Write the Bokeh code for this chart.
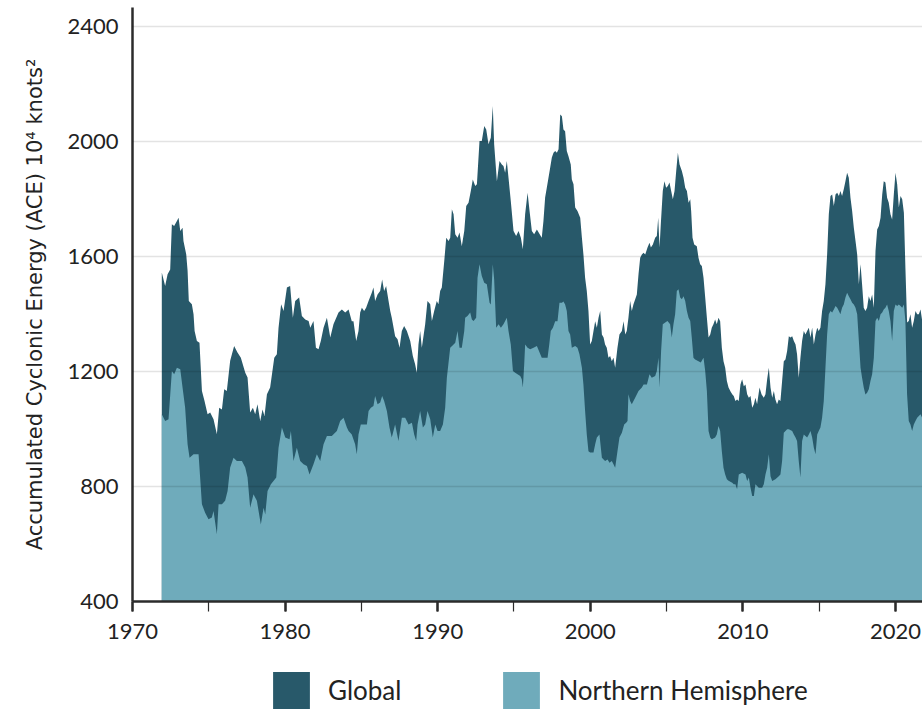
from bokeh.plotting import figure
from bokeh.layouts import column
from bokeh.models import Range1d, FixedTicker, SingleIntervalTicker, Legend, LegendItem
from bokeh.embed import file_html
from bokeh.resources import INLINE

# ---------------- data ----------------
global_years = [
    1971.92, 1972.14, 1972.30, 1972.47, 1972.58, 1972.73, 1972.91, 1973.02, 1973.13, 1973.28,
    1973.34, 1973.52, 1973.61, 1973.69, 1973.89, 1974.00, 1974.07, 1974.22, 1974.39, 1974.55,
    1974.72, 1974.92, 1975.09, 1975.31, 1975.53, 1975.68, 1975.86, 1976.01, 1976.18, 1976.40,
    1976.66, 1976.88, 1977.10, 1977.39, 1977.54, 1977.71, 1977.89, 1978.04, 1978.19, 1978.37,
    1978.52, 1978.65, 1978.81, 1979.02, 1979.29, 1979.46, 1979.57, 1979.74, 1979.90, 1980.12,
    1980.33, 1980.51, 1980.66, 1980.92, 1981.10, 1981.32, 1981.54, 1981.65, 1981.86, 1982.02,
    1982.19, 1982.34, 1982.52, 1982.74, 1982.96, 1983.17, 1983.50, 1983.72, 1983.94, 1984.16,
    1984.37, 1984.48, 1984.66, 1984.81, 1984.92, 1985.03, 1985.18, 1985.31, 1985.47, 1985.68,
    1985.79, 1985.90, 1986.06, 1986.23, 1986.36, 1986.49, 1986.62, 1986.78, 1986.89, 1986.99,
    1987.21, 1987.37, 1987.50, 1987.65, 1987.80, 1987.98, 1988.20, 1988.37, 1988.52, 1988.63,
    1988.74, 1988.85, 1988.96, 1989.18, 1989.33, 1989.51, 1989.62, 1989.77, 1989.94, 1990.05,
    1990.16, 1990.27, 1990.43, 1990.56, 1990.71, 1990.82, 1990.93, 1991.04, 1991.15, 1991.30,
    1991.43, 1991.58, 1991.74, 1991.87, 1992.02, 1992.17, 1992.30, 1992.46, 1992.57, 1992.74,
    1992.89, 1993.05, 1993.18, 1993.33, 1993.48, 1993.61, 1993.70, 1993.88, 1994.05, 1994.20,
    1994.31, 1994.42, 1994.53, 1994.64, 1994.79, 1994.97, 1995.14, 1995.30, 1995.45, 1995.58,
    1995.73, 1995.89, 1996.02, 1996.17, 1996.32, 1996.50, 1996.82, 1996.93, 1997.04, 1997.15,
    1997.26, 1997.37, 1997.48, 1997.59, 1997.70, 1997.81, 1997.92, 1998.03, 1998.14, 1998.24,
    1998.35, 1998.46, 1998.57, 1998.72, 1998.79, 1998.90, 1999.01, 1999.16, 1999.34, 1999.45,
    1999.55, 1999.66, 1999.77, 1999.88, 1999.99, 2000.10, 2000.21, 2000.32, 2000.43, 2000.54,
    2000.65, 2000.76, 2000.87, 2000.97, 2001.08, 2001.19, 2001.30, 2001.41, 2001.52, 2001.63,
    2001.78, 2001.91, 2002.07, 2002.18, 2002.29, 2002.39, 2002.50, 2002.61, 2002.72, 2002.83,
    2003.05, 2003.16, 2003.27, 2003.38, 2003.49, 2003.60, 2003.75, 2003.88, 2003.97, 2004.10,
    2004.25, 2004.36, 2004.45, 2004.54, 2004.62, 2004.75, 2004.86, 2004.97, 2005.08, 2005.19,
    2005.30, 2005.41, 2005.52, 2005.63, 2005.74, 2005.85, 2006.00, 2006.11, 2006.22, 2006.33,
    2006.44, 2006.55, 2006.61, 2006.70, 2006.81, 2006.98, 2007.09, 2007.20, 2007.31, 2007.42,
    2007.53, 2007.64, 2007.75, 2007.86, 2007.96, 2008.07, 2008.18, 2008.29, 2008.40, 2008.51,
    2008.62, 2008.73, 2008.84, 2008.95, 2009.06, 2009.19, 2009.30, 2009.40, 2009.51, 2009.62,
    2009.73, 2009.84, 2009.95, 2010.06, 2010.17, 2010.28, 2010.39, 2010.50, 2010.61, 2010.72,
    2010.82, 2010.93, 2011.09, 2011.22, 2011.37, 2011.48, 2011.59, 2011.70, 2011.81, 2011.92,
    2012.03, 2012.13, 2012.24, 2012.35, 2012.46, 2012.57, 2012.68, 2012.79, 2012.90, 2013.01,
    2013.12, 2013.23, 2013.34, 2013.45, 2013.55, 2013.66, 2013.77, 2013.88, 2013.99, 2014.10,
    2014.21, 2014.32, 2014.43, 2014.54, 2014.65, 2014.76, 2014.87, 2014.97, 2015.08, 2015.19,
    2015.30, 2015.41, 2015.52, 2015.63, 2015.74, 2015.85, 2015.96, 2016.07, 2016.18, 2016.29,
    2016.39, 2016.50, 2016.61, 2016.72, 2016.83, 2016.94, 2017.05, 2017.16, 2017.27, 2017.38,
    2017.49, 2017.60, 2017.71, 2017.81, 2017.92, 2018.03, 2018.14, 2018.25, 2018.36, 2018.47,
    2018.58, 2018.69, 2018.80, 2018.91, 2019.02, 2019.13, 2019.23, 2019.34, 2019.45, 2019.56,
    2019.67, 2019.78, 2019.89, 2020.00, 2020.11, 2020.22, 2020.33, 2020.44, 2020.55, 2020.65,
    2020.76, 2020.87, 2020.98, 2021.09, 2021.20, 2021.31, 2021.42, 2021.53, 2021.64, 2021.75,
    2022.00,
]
global_ace = [
    1544, 1497, 1538, 1555, 1712, 1706, 1723, 1735, 1689, 1700,
    1654, 1608, 1550, 1445, 1434, 1399, 1341, 1306, 1300, 1132,
    1097, 1051, 1057, 1034, 982, 1074, 1068, 1138, 1132, 1237,
    1289, 1266, 1248, 1196, 1179, 1057, 1074, 1051, 1086, 1028,
    1068, 1045, 1121, 1144, 1248, 1260, 1352, 1434, 1410, 1492,
    1497, 1387, 1445, 1457, 1393, 1381, 1376, 1352, 1376, 1283,
    1277, 1306, 1352, 1387, 1318, 1364, 1405, 1416, 1405, 1416,
    1375, 1375, 1306, 1341, 1405, 1422, 1410, 1422, 1445, 1474,
    1492, 1445, 1468, 1480, 1520, 1480, 1497, 1445, 1410, 1387,
    1323, 1312, 1283, 1341, 1358, 1341, 1306, 1254, 1225, 1196,
    1294, 1341, 1283, 1364, 1445, 1434, 1376, 1410, 1445, 1434,
    1480, 1492, 1584, 1665, 1654, 1665, 1764, 1747, 1677, 1665,
    1683, 1636, 1689, 1776, 1787, 1828, 1868, 1845, 1851, 2002,
    2002, 2054, 2042, 1990, 2013, 2123, 1990, 1862, 1932, 1920,
    1915, 1891, 1932, 1874, 1793, 1689, 1671, 1689, 1665, 1625,
    1747, 1822, 1758, 1689, 1677, 1694, 1665, 1723, 1805, 1839,
    1874, 1909, 1944, 1961, 1967, 1961, 1973, 2094, 2088, 2042,
    2036, 1967, 1949, 1920, 1868, 1851, 1770, 1758, 1735, 1665,
    1607, 1526, 1480, 1410, 1294, 1306, 1341, 1375, 1352, 1387,
    1410, 1329, 1318, 1294, 1283, 1248, 1254, 1236, 1248, 1213,
    1283, 1329, 1341, 1375, 1329, 1341, 1387, 1445, 1410, 1434,
    1468, 1538, 1596, 1607, 1613, 1607, 1631, 1648, 1631, 1642,
    1665, 1671, 1735, 1631, 1712, 1828, 1862, 1839, 1845, 1857,
    1828, 1799, 1828, 1897, 1961, 1920, 1897, 1874, 1839, 1828,
    1787, 1799, 1758, 1665, 1642, 1636, 1596, 1573, 1567, 1526,
    1457, 1387, 1318, 1329, 1352, 1364, 1381, 1364, 1387, 1375,
    1283, 1236, 1213, 1167, 1144, 1130, 1121, 1115, 1097, 1103,
    1097, 1155, 1173, 1149, 1155, 1121, 1109, 1115, 1074, 1086,
    1109, 1086, 1144, 1121, 1109, 1121, 1173, 1213, 1144, 1109,
    1132, 1103, 1086, 1103, 1097, 1167, 1236, 1242, 1271, 1323,
    1318, 1323, 1306, 1294, 1260, 1178, 1248, 1306, 1341, 1329,
    1341, 1352, 1318, 1352, 1294, 1329, 1352, 1341, 1352, 1410,
    1445, 1503, 1607, 1747, 1810, 1816, 1776, 1816, 1822, 1810,
    1828, 1810, 1834, 1862, 1891, 1874, 1804, 1758, 1700, 1654,
    1607, 1503, 1573, 1503, 1422, 1410, 1422, 1462, 1445, 1468,
    1422, 1619, 1694, 1706, 1735, 1816, 1862, 1857, 1804, 1787,
    1747, 1729, 1816, 1891, 1851, 1770, 1810, 1799, 1752, 1561,
    1370, 1376, 1399, 1352, 1376, 1410, 1399, 1399, 1416, 1376,
    1400,
]

nh_years = [
    1971.92, 1972.14, 1972.36, 1972.58, 1972.73, 1972.91, 1973.13, 1973.28, 1973.45, 1973.61,
    1973.74, 1974.00, 1974.33, 1974.55, 1974.76, 1974.98, 1975.20, 1975.31, 1975.53, 1975.64,
    1975.86, 1976.07, 1976.23, 1976.40, 1976.62, 1976.84, 1977.17, 1977.39, 1977.54, 1977.71,
    1977.93, 1978.15, 1978.41, 1978.59, 1978.70, 1978.85, 1979.07, 1979.42, 1979.57, 1979.79,
    1980.01, 1980.29, 1980.38, 1980.55, 1980.77, 1980.99, 1981.21, 1981.43, 1981.60, 1981.86,
    1982.08, 1982.30, 1982.52, 1982.74, 1983.06, 1983.39, 1983.61, 1983.83, 1984.05, 1984.16,
    1984.37, 1984.59, 1984.70, 1984.81, 1984.96, 1985.14, 1985.36, 1985.47, 1985.62, 1985.79,
    1985.90, 1986.06, 1986.23, 1986.36, 1986.49, 1986.67, 1986.84, 1986.99, 1987.21, 1987.43,
    1987.65, 1987.87, 1988.09, 1988.31, 1988.46, 1988.59, 1988.68, 1988.85, 1989.03, 1989.18,
    1989.33, 1989.51, 1989.68, 1989.84, 1989.99, 1990.16, 1990.34, 1990.49, 1990.60, 1990.82,
    1991.04, 1991.15, 1991.30, 1991.43, 1991.58, 1991.74, 1991.80, 1991.95, 1992.13, 1992.24,
    1992.35, 1992.52, 1992.61, 1992.74, 1992.89, 1993.05, 1993.22, 1993.40, 1993.48, 1993.61,
    1993.70, 1993.83, 1993.99, 1994.14, 1994.31, 1994.42, 1994.53, 1994.64, 1994.79, 1994.93,
    1995.08, 1995.23, 1995.41, 1995.51, 1995.58, 1995.67, 1995.73, 1995.89, 1996.06, 1996.28,
    1996.50, 1996.82, 1997.04, 1997.20, 1997.31, 1997.41, 1997.55, 1997.70, 1997.85, 1997.98,
    1998.14, 1998.24, 1998.35, 1998.46, 1998.57, 1998.68, 1998.79, 1999.01, 1999.16, 1999.29,
    1999.45, 1999.55, 1999.66, 1999.77, 1999.88, 1999.99, 2000.21, 2000.32, 2000.43, 2000.60,
    2000.76, 2000.87, 2000.97, 2001.13, 2001.26, 2001.41, 2001.52, 2001.63, 2001.78, 2001.91,
    2002.07, 2002.22, 2002.35, 2002.44, 2002.50, 2002.61, 2002.72, 2002.94, 2003.16, 2003.38,
    2003.49, 2003.71, 2003.88, 2004.03, 2004.25, 2004.36, 2004.47, 2004.54, 2004.64, 2004.75,
    2004.91, 2005.06, 2005.23, 2005.34, 2005.45, 2005.56, 2005.67, 2005.78, 2005.89, 2006.00,
    2006.11, 2006.22, 2006.33, 2006.44, 2006.55, 2006.65, 2006.76, 2006.87, 2007.09, 2007.24,
    2007.42, 2007.53, 2007.64, 2007.75, 2007.86, 2007.96, 2008.18, 2008.29, 2008.40, 2008.51,
    2008.62, 2008.73, 2008.84, 2008.95, 2009.06, 2009.30, 2009.40, 2009.51, 2009.62, 2009.73,
    2009.95, 2010.17, 2010.28, 2010.39, 2010.50, 2010.61, 2010.72, 2010.82, 2011.04, 2011.26,
    2011.37, 2011.48, 2011.59, 2011.70, 2011.81, 2011.92, 2012.13, 2012.35, 2012.46, 2012.57,
    2012.68, 2012.79, 2012.90, 2013.01, 2013.23, 2013.34, 2013.45, 2013.55, 2013.66, 2013.77,
    2013.88, 2013.99, 2014.10, 2014.21, 2014.32, 2014.43, 2014.54, 2014.65, 2014.76, 2014.87,
    2014.97, 2015.08, 2015.19, 2015.30, 2015.41, 2015.52, 2015.63, 2015.74, 2015.85, 2015.96,
    2016.07, 2016.18, 2016.29, 2016.39, 2016.50, 2016.61, 2016.72, 2016.83, 2016.94, 2017.05,
    2017.16, 2017.27, 2017.38, 2017.49, 2017.60, 2017.71, 2017.81, 2017.92, 2018.03, 2018.14,
    2018.25, 2018.36, 2018.47, 2018.58, 2018.69, 2018.80, 2018.91, 2019.02, 2019.13, 2019.23,
    2019.34, 2019.45, 2019.56, 2019.67, 2019.78, 2019.89, 2020.00, 2020.11, 2020.22, 2020.33,
    2020.44, 2020.55, 2020.65, 2020.76, 2020.87, 2020.98, 2021.09, 2021.20, 2021.31, 2021.42,
    2021.53, 2021.64, 2021.75, 2022.00,
]
nh_ace = [
    1051, 1028, 1034, 1202, 1190, 1213, 1208, 1144, 1074, 947,
    900, 912, 912, 738, 709, 686, 692, 715, 634, 738,
    738, 750, 784, 866, 900, 889, 889, 866, 831, 726,
    773, 750, 668, 726, 703, 784, 808, 831, 935, 1005,
    970, 964, 993, 889, 935, 889, 877, 871, 842, 877,
    912, 889, 947, 976, 976, 993, 1028, 1039, 1005, 993,
    981, 947, 912, 981, 1016, 1016, 1016, 1063, 1074, 1080,
    1115, 1086, 1092, 1115, 1097, 1063, 1005, 970, 1016, 958,
    1039, 1039, 1016, 1022, 981, 958, 1016, 1063, 1005, 1016,
    1063, 1034, 970, 1016, 993, 993, 1016, 1074, 1178, 1283,
    1294, 1300, 1341, 1283, 1283, 1341, 1387, 1393, 1405, 1381,
    1376, 1387, 1526, 1573, 1532, 1509, 1503, 1439, 1433, 1573,
    1520, 1352, 1364, 1352, 1364, 1376, 1387, 1341, 1294, 1202,
    1196, 1190, 1184, 1173, 1144, 1225, 1294, 1283, 1277, 1283,
    1289, 1248, 1248, 1248, 1294, 1341, 1352, 1375, 1375, 1439,
    1439, 1443, 1433, 1410, 1341, 1329, 1283, 1289, 1283, 1260,
    1213, 1155, 1063, 981, 923, 918, 918, 947, 970, 981,
    900, 894, 889, 894, 883, 889, 877, 865, 923, 970,
    987, 1016, 1022, 1028, 1121, 1097, 1086, 1109, 1132, 1144,
    1155, 1155, 1190, 1178, 1184, 1202, 1248, 1144, 1271, 1364,
    1370, 1376, 1364, 1318, 1364, 1399, 1480, 1486, 1457, 1451,
    1462, 1445, 1410, 1387, 1376, 1318, 1248, 1242, 1236, 1231,
    1248, 1202, 1132, 993, 970, 964, 970, 981, 1010, 993,
    923, 865, 842, 825, 820, 813, 808, 808, 790, 842,
    848, 842, 819, 831, 796, 767, 767, 808, 796, 796,
    808, 842, 865, 912, 836, 819, 825, 836, 842, 889,
    987, 993, 999, 999, 993, 981, 970, 958, 889, 831,
    958, 981, 976, 970, 981, 993, 970, 935, 912, 981,
    993, 1005, 1039, 1097, 1213, 1329, 1399, 1410, 1405, 1416,
    1428, 1422, 1410, 1399, 1422, 1433, 1457, 1474, 1462, 1451,
    1439, 1433, 1422, 1399, 1306, 1213, 1178, 1144, 1120, 1126,
    1138, 1167, 1190, 1248, 1376, 1387, 1376, 1399, 1405, 1416,
    1422, 1433, 1410, 1376, 1306, 1410, 1433, 1428, 1433, 1428,
    1422, 1433, 1376, 1120, 1028, 1016, 993, 1016, 1028, 1039,
    1045, 1051, 1039, 1040,
]

y_ticks = [400, 800, 1200, 1600, 2000, 2400]
grid_values = [800, 1200, 1600, 2000, 2400]
series_labels = ["Global", "Northern Hemisphere"]
y_title = "Accumulated Cyclonic Energy (ACE) 10\u2074 knots\u00b2"

# ---------------- styling ----------------
DARK = "#28596a"
LIGHT = "#6fabbb"
INK = "#222222"
AXIS = "#2b2b2b"
FONT = "Lato"
LABEL_FONT = "DejaVu Sans"

p = figure(width=922, height=655, output_backend="svg", toolbar_location=None,
           x_range=Range1d(1970, 2021.77), y_range=Range1d(400, 2466),
           min_border_left=132, min_border_right=0, min_border_top=7,
           min_border_bottom=54)
p.outline_line_color = None
p.background_fill_color = "white"
p.border_fill_color = "white"

g = p.varea(x=global_years, y1=400, y2=global_ace, fill_color=DARK)
n = p.varea(x=nh_years, y1=400, y2=nh_ace, fill_color=LIGHT)

# x axis
xa = p.xaxis[0]
xa.ticker = SingleIntervalTicker(interval=10, num_minor_ticks=2)
xa.axis_line_color = AXIS
xa.axis_line_width = 2.5
xa.major_tick_in = 0
xa.major_tick_out = 10
xa.major_tick_line_width = 2.5
xa.major_tick_line_color = AXIS
xa.minor_tick_in = 0
xa.minor_tick_out = 10
xa.minor_tick_line_width = 1.2
xa.minor_tick_line_color = AXIS
xa.major_label_standoff = 12
xa.major_label_text_font = FONT
xa.major_label_text_font_size = "22px"
xa.major_label_text_color = INK

# y axis
ya = p.yaxis[0]
ya.ticker = FixedTicker(ticks=y_ticks)
ya.axis_line_color = AXIS
ya.axis_line_width = 2.5
ya.major_tick_in = 0
ya.major_tick_out = 0
ya.minor_tick_in = 0
ya.minor_tick_out = 0
ya.major_label_standoff = 14
ya.major_label_text_font = FONT
ya.major_label_text_font_size = "22px"
ya.major_label_text_color = INK
ya.axis_label = y_title
ya.axis_label_standoff = 17
ya.axis_label_text_font = LABEL_FONT
ya.axis_label_text_font_size = "21px"
ya.axis_label_text_font_style = "normal"
ya.axis_label_text_color = INK

# grid drawn over the areas
p.xgrid.visible = False
p.ygrid.ticker = FixedTicker(ticks=grid_values)
p.ygrid.grid_line_color = "black"
p.ygrid.grid_line_alpha = 0.11
p.ygrid.grid_line_width = 1.5
p.ygrid.level = "overlay"

# ---------------- legend strip below the chart ----------------
# The strip's ranges exclude the series, so its glyphs only serve as legend keys.
lg = figure(width=922, height=54, output_backend="svg", toolbar_location=None,
            x_range=Range1d(0, 1), y_range=Range1d(0, 1),
            x_axis_location=None, y_axis_location=None,
            min_border_left=0, min_border_right=0, min_border_top=0, min_border_bottom=0)
lg.outline_line_color = None
lg.xgrid.visible = False
lg.ygrid.visible = False
lg_g = lg.varea(x=global_years, y1=400, y2=global_ace, fill_color=DARK)
lg_n = lg.varea(x=nh_years, y1=400, y2=nh_ace, fill_color=LIGHT)

legend = Legend(
    items=[LegendItem(label=series_labels[0], renderers=[lg_g]),
           LegendItem(label=series_labels[1], renderers=[lg_n])],
    orientation="horizontal", location=(136, -4),
    glyph_width=46, glyph_height=46, label_standoff=14, spacing=97,
    padding=0, margin=0, border_line_color=None, background_fill_alpha=0,
    label_text_font=FONT, label_text_font_size="26px", label_text_color=INK,
    label_text_baseline="middle",
)
lg.add_layout(legend, "center")

open("out.html", "w").write(file_html(column(p, lg, spacing=0), INLINE))
